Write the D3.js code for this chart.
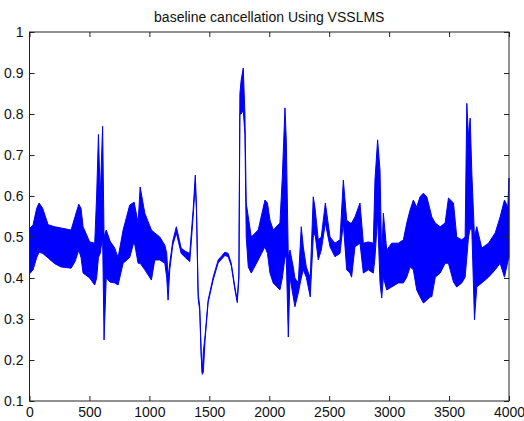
<!DOCTYPE html>
<html>
<head>
<meta charset="utf-8">
<script src="https://cdn.jsdelivr.net/npm/d3@7"></script>
<style>
  body { margin: 0; background: #fff; }
  .canva text { font-family: Arial, "Liberation Sans", sans-serif; }
</style>
</head>
<body>
<div class="canva"></div>
<script>
// sample positions, upper and lower edge of the signal band
const sampleX = [0, 30, 60, 80, 110, 155, 210, 263, 347, 380, 411, 430, 447, 502, 544, 560, 575, 590, 610, 622,
  640, 672, 711, 739, 781, 836, 873, 906, 923, 962, 1017, 1045, 1087, 1129, 1145, 1156, 1170, 1195, 1225, 1265,
  1300, 1337, 1350, 1365, 1383, 1393, 1407, 1420, 1432, 1441, 1450, 1465, 1490, 1532, 1574, 1630, 1657, 1683, 1713, 1733,
  1747, 1755, 1766, 1783, 1797, 1808, 1825, 1850, 1908, 1964, 1985, 2006, 2033, 2089, 2109, 2131, 2142, 2159, 2173, 2200,
  2214, 2242, 2267, 2284, 2309, 2342, 2367, 2381, 2409, 2434, 2468, 2507, 2548, 2590, 2618, 2646, 2674, 2687, 2715, 2757,
  2785, 2826, 2868, 2882, 2904, 2924, 2938, 2952, 2980, 3021, 3077, 3119, 3147, 3175, 3202, 3230, 3258, 3286, 3314, 3342,
  3356, 3385, 3426, 3467, 3495, 3537, 3564, 3606, 3634, 3648, 3662, 3676, 3690, 3712, 3731, 3773, 3829, 3885, 3926, 3962,
  3990, 4000]
const upper = [0.52, 0.53, 0.57, 0.583, 0.57, 0.53, 0.525, 0.522, 0.517, 0.55, 0.58, 0.57, 0.525, 0.488, 0.485, 0.60, 0.75, 0.60, 0.77, 0.50,
  0.517, 0.49, 0.473, 0.45, 0.517, 0.578, 0.585, 0.534, 0.622, 0.558, 0.517, 0.51, 0.50, 0.48, 0.46, 0.40, 0.436, 0.49, 0.525, 0.473,
  0.465, 0.46, 0.51, 0.566, 0.651, 0.573, 0.363, 0.33, 0.22, 0.17, 0.22, 0.26, 0.346, 0.402, 0.444, 0.463, 0.46, 0.436, 0.378, 0.346,
  0.412, 0.85, 0.883, 0.912, 0.80, 0.583, 0.549, 0.50, 0.517, 0.59, 0.583, 0.541, 0.517, 0.534, 0.646, 0.815, 0.737, 0.45, 0.468, 0.427,
  0.40, 0.388, 0.525, 0.476, 0.427, 0.40, 0.598, 0.573, 0.493, 0.50, 0.583, 0.50, 0.485, 0.493, 0.639, 0.541, 0.534, 0.534, 0.549, 0.583,
  0.485, 0.488, 0.485, 0.639, 0.737, 0.663, 0.45, 0.558, 0.468, 0.485, 0.485, 0.493, 0.534, 0.566, 0.59, 0.573, 0.598, 0.607, 0.598, 0.566,
  0.549, 0.534, 0.525, 0.534, 0.595, 0.583, 0.50, 0.493, 0.50, 0.826, 0.744, 0.79, 0.656, 0.50, 0.525, 0.473, 0.485, 0.51, 0.549, 0.59,
  0.573, 0.644]
const lower = [0.41, 0.42, 0.45, 0.463, 0.46, 0.449, 0.435, 0.427, 0.424, 0.44, 0.468, 0.45, 0.412, 0.40, 0.383, 0.40, 0.45, 0.46, 0.50, 0.249,
  0.40, 0.39, 0.388, 0.383, 0.436, 0.45, 0.49, 0.436, 0.436, 0.42, 0.395, 0.444, 0.444, 0.436, 0.40, 0.346, 0.42, 0.48, 0.51, 0.46,
  0.45, 0.44, 0.49, 0.55, 0.63, 0.56, 0.35, 0.32, 0.21, 0.165, 0.17, 0.25, 0.34, 0.395, 0.437, 0.455, 0.452, 0.43, 0.372, 0.34,
  0.40, 0.80, 0.80, 0.81, 0.75, 0.50, 0.427, 0.412, 0.444, 0.476, 0.46, 0.412, 0.388, 0.371, 0.40, 0.45, 0.452, 0.256, 0.402, 0.354,
  0.33, 0.363, 0.40, 0.42, 0.402, 0.354, 0.50, 0.51, 0.444, 0.468, 0.534, 0.476, 0.452, 0.46, 0.534, 0.42, 0.412, 0.402, 0.476, 0.485,
  0.412, 0.42, 0.412, 0.45, 0.55, 0.388, 0.351, 0.402, 0.371, 0.378, 0.388, 0.388, 0.402, 0.427, 0.42, 0.371, 0.354, 0.339, 0.346, 0.354,
  0.354, 0.402, 0.412, 0.436, 0.436, 0.39, 0.378, 0.388, 0.402, 0.45, 0.50, 0.52, 0.517, 0.298, 0.378, 0.388, 0.402, 0.42, 0.436, 0.402,
  0.44, 0.45]

const xTicks = [0, 500, 1000, 1500, 2000, 2500, 3000, 3500, 4000]
const yTicks = [0.1, 0.2, 0.3, 0.4, 0.5, 0.6, 0.7, 0.8, 0.9, 1]
const chartTitle = "baseline cancellation Using VSSLMS"

const W = 524, H = 421
const padLeft = 29.5, padRight = 509, padTop = 32, padBottom = 401

function render() {
  const canva = d3.select('.canva')
  const svg = canva.append('svg')
    .attr('width', W)
    .attr('height', H)

  const x = d3.scaleLinear().domain([0, 4000]).range([padLeft, padRight])
  const y = d3.scaleLinear().domain([0.1, 1]).range([padBottom, padTop])

  const rows = sampleX.map((d, i) => ({x: d, hi: upper[i], lo: lower[i]}))

  const band = d3.area()
    .x(d => x(d.x))
    .y0(d => y(d.lo))
    .y1(d => y(d.hi))

  svg.append('path')
    .datum(rows)
    .attr('d', band)
    .attr('fill', '#0000ff')
    .attr('stroke', '#0000ff')
    .attr('stroke-width', 1)
    .attr('stroke-linejoin', 'round')

  // axes, matlab style: ticks pointing in, on all four sides
  const fmt = d => String(d)
  const axB = svg.append('g').attr('transform', `translate(0,${padBottom})`)
    .call(d3.axisBottom(x).tickValues(xTicks).tickFormat(fmt).tickSizeInner(-5).tickSizeOuter(0).tickPadding(6))
  const axT = svg.append('g').attr('transform', `translate(0,${padTop})`)
    .call(d3.axisTop(x).tickValues(xTicks).tickFormat('').tickSizeInner(-5).tickSizeOuter(0))
  const axL = svg.append('g').attr('transform', `translate(${padLeft},0)`)
    .call(d3.axisLeft(y).tickValues(yTicks).tickFormat(fmt).tickSizeInner(-5).tickSizeOuter(0).tickPadding(6))
  const axR = svg.append('g').attr('transform', `translate(${padRight},0)`)
    .call(d3.axisRight(y).tickValues(yTicks).tickFormat('').tickSizeInner(-5).tickSizeOuter(0))

  for (const g of [axB, axT, axL, axR]) {
    g.select('.domain').remove()
    g.selectAll('line').attr('stroke', '#222')
    g.selectAll('text').attr('fill', '#111').style('font-size', '14px')
  }

  svg.append('rect')
    .attr('x', padLeft).attr('y', padTop)
    .attr('width', padRight - padLeft).attr('height', padBottom - padTop)
    .attr('fill', 'none')
    .attr('stroke', '#222')
    .attr('stroke-width', 1)

  svg.append('text')
    .attr('x', (padLeft + padRight) / 2)
    .attr('y', 22)
    .attr('text-anchor', 'middle')
    .attr('fill', '#111')
    .style('font-size', '14px')
    .text(chartTitle)
}

render()
</script>
</body>
</html>
